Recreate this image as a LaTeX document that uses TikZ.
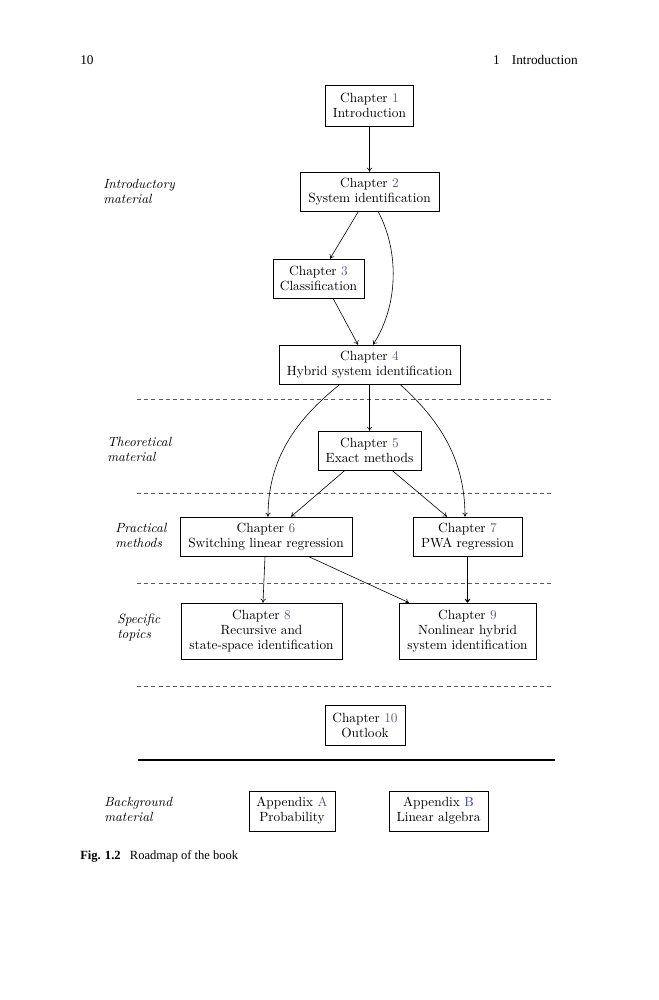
\documentclass[tikz,border=0pt]{standalone}
\usepackage{fontspec}
\newfontfamily\timesfont{Liberation Serif}
\usetikzlibrary{arrows.meta,calc}
\definecolor{numcol}{RGB}{95,95,125}
\definecolor{linkblue}{RGB}{60,60,200}
\newcommand{\chnum}[1]{\textcolor{numcol}{#1}}
\begin{document}
\begin{tikzpicture}[x=0.75pt,y=-0.75pt,
  box/.style={draw, line width=0.45pt, align=center, inner sep=1pt,
    font=\fontsize{10}{11.25}\selectfont},
  sz/.style 2 args={minimum width=#1*0.75pt, minimum height=#2*0.75pt},
  lab/.style={anchor=west, align=left, inner sep=0pt,
    font=\fontsize{10}{11.25}\selectfont\itshape},
  arr/.style={-{To[length=3pt,width=4pt]}, line width=0.45pt},
  sepline/.style={line width=0.45pt, color=black!65, dash pattern=on 3pt off 2.4pt},
  hdr/.style={inner sep=0pt, font=\timesfont\fontsize{10}{12}\selectfont}]
\useasboundingbox (0,0) rectangle (659,1000);

% header
\node[hdr, anchor=west] (pg) at (80,60) {10};
\node[hdr, anchor=east] (hd) at (578,60) {1\hspace{9pt}Introduction};

% chapter boxes
\node[box, sz={88}{41}] (ch1) at (369.5,105.5) {Chapter \chnum{1}\\Introduction};
\node[box, sz={139}{39}] (ch2) at (369.5,191.5) {Chapter \chnum{2}\\System identification};
\node[box, sz={91}{39}] (ch3) at (318.5,278.5) {Chapter \chnum{3}\\Classification};
\node[box, sz={181}{39}] (ch4) at (369.5,364.5) {Chapter \chnum{4}\\Hybrid system identification};
\node[box, sz={103}{39}] (ch5) at (369.5,450.5) {Chapter \chnum{5}\\Exact methods};
\node[box, sz={172}{39}] (ch6) at (266,536.5) {Chapter \chnum{6}\\Switching linear regression};
\node[box, sz={109}{39}] (ch7) at (467.5,536.5) {Chapter \chnum{7}\\PWA regression};
\node[box, sz={161}{56}] (ch8) at (261.5,631) {Chapter \chnum{8}\\Recursive and\\state-space identification};
\node[box, sz={137}{56}] (ch9) at (467.5,631) {Chapter \chnum{9}\\Nonlinear hybrid\\system identification};
\node[box, sz={80}{40}] (ch10) at (365,725) {Chapter \chnum{10}\\Outlook};
\node[box, sz={86}{40}] (appa) at (292,811) {Appendix \chnum{A}\\Probability};
\node[box, sz={99}{40}] (appb) at (438.5,811) {Appendix \textcolor{linkblue}{B}\\Linear algebra};

% section labels
\node[lab] (l1) at (103,191.5) {Introductory\\material};
\node[lab] (l2) at (107,449) {Theoretical\\material};
\node[lab] (l3) at (115,535) {Practical\\methods};
\node[lab] (l4) at (117,628) {Specific\\topics};
\node[lab] (l5) at (104,809.5) {Background\\material};

% separators
\coordinate (s1a) at (137,399); \coordinate (s1b) at (553,399);
\coordinate (s2a) at (137,493); \coordinate (s2b) at (553,493);
\coordinate (s3a) at (137,583); \coordinate (s3b) at (553,583);
\coordinate (s4a) at (137,686); \coordinate (s4b) at (553,686);
\coordinate (s5a) at (138,760); \coordinate (s5b) at (555,760);
\draw[sepline] (s1a) -- (s1b);
\draw[sepline] (s2a) -- (s2b);
\draw[sepline] (s3a) -- (s3b);
\draw[sepline] (s4a) -- (s4b);
\draw[line width=0.9pt] (s5a) -- (s5b);

% connectors
\draw[arr] (ch1.south) -- (ch2.north);
\draw[arr] ($(ch2.south)+(-11,0)$) -- ($(ch3.north)+(11.5,0)$);
\draw[arr] ($(ch2.south)+(8.5,0)$) .. controls +(21,39) and +(26,-40) .. ($(ch4.north)+(3.5,0)$);
\draw[arr] ($(ch3.south)+(14.5,0)$) -- ($(ch4.north)+(-11.5,0)$);
\draw[arr] (ch4.south) -- (ch5.north);
\draw[arr] ($(ch4.south)+(-29.5,0)$) .. controls +(-45,36) and +(0,-57) .. ($(ch6.north)+(2,0)$);
\draw[arr] ($(ch4.south)+(30.5,0)$) .. controls +(40,36) and +(0,-57) .. ($(ch7.north)+(-2.5,0)$);
\draw[arr] ($(ch5.south)+(-24.5,0)$) -- ($(ch6.north)+(25,0)$);
\draw[arr] ($(ch5.south)+(22.5,0)$) -- ($(ch7.north)+(-20.5,0)$);
\draw[arr] ($(ch6.south)+(-1,0)$) -- ($(ch8.north)+(1.5,0)$);
\draw[arr] ($(ch6.south)+(42,0)$) -- ($(ch9.north)+(-58.5,0)$);
\draw[arr, line width=0.8pt] (ch7.south) -- (ch9.north);

% caption
\node[hdr, anchor=west, font=\timesfont\fontsize{9.4}{11}\selectfont] (cap) at (80,856) {\textbf{Fig. 1.2}\hspace{7pt}Roadmap of the book};
\end{tikzpicture}
\end{document}
